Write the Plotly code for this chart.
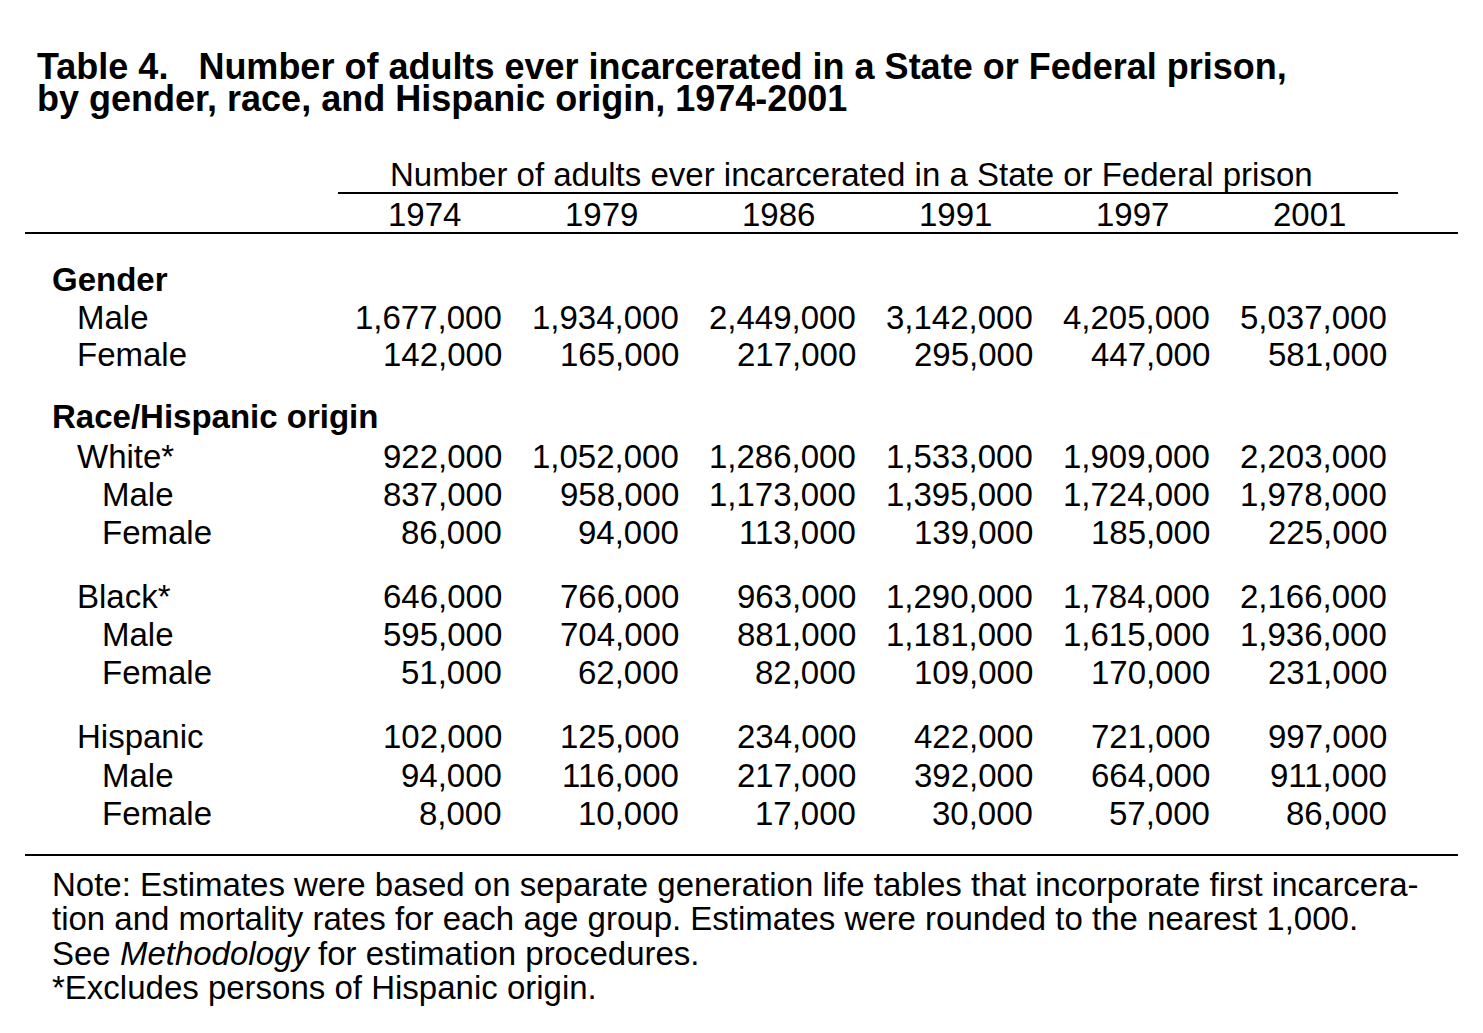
import plotly.graph_objects as go

W, H = 1483, 1033
FONT = "Liberation Sans, Arial, Helvetica, sans-serif"

years = ["1974", "1979", "1986", "1991", "1997", "2001"]

# (label, indent level, bold, values)
rows = [
    ("Gender", 0, True, None),
    ("Male", 1, False, [1677000, 1934000, 2449000, 3142000, 4205000, 5037000]),
    ("Female", 1, False, [142000, 165000, 217000, 295000, 447000, 581000]),
    ("Race/Hispanic origin", 0, True, None),
    ("White*", 1, False, [922000, 1052000, 1286000, 1533000, 1909000, 2203000]),
    ("Male", 2, False, [837000, 958000, 1173000, 1395000, 1724000, 1978000]),
    ("Female", 2, False, [86000, 94000, 113000, 139000, 185000, 225000]),
    ("Black*", 1, False, [646000, 766000, 963000, 1290000, 1784000, 2166000]),
    ("Male", 2, False, [595000, 704000, 881000, 1181000, 1615000, 1936000]),
    ("Female", 2, False, [51000, 62000, 82000, 109000, 170000, 231000]),
    ("Hispanic", 1, False, [102000, 125000, 234000, 422000, 721000, 997000]),
    ("Male", 2, False, [94000, 116000, 217000, 392000, 664000, 911000]),
    ("Female", 2, False, [8000, 10000, 17000, 30000, 57000, 86000]),
]
row_y = [279, 317, 354, 416, 456, 494, 532, 596, 634, 672, 736, 775, 813]

title_lines = [
    "Table 4.   Number of adults ever incarcerated in a State or Federal prison,",
    "by gender, race, and Hispanic origin, 1974-2001",
]
header = "Number of adults ever incarcerated in a State or Federal prison"
notes = [
    "Note: Estimates were based on separate generation life tables that incorporate first incarcera-",
    "tion and mortality rates for each age group. Estimates were rounded to the nearest 1,000.",
    "See <i>Methodology</i> for estimation procedures.",
    "*Excludes persons of Hispanic origin.",
]

col_x = [504, 681, 858, 1035, 1212, 1389]
year_x = [463, 640, 817, 994, 1171, 1348]
indent_x = [50, 75, 100]
fs = 33
OFF = 8  # page body margin

fig = go.Figure()
ann = []


def txt(x, y, s, anchor="left", size=fs, bold=False):
    if bold:
        s = "<b>" + s + "</b>"
    ann.append(dict(x=x, y=y, text=s, xref="x", yref="y", showarrow=False,
                    xanchor=anchor, yanchor="middle",
                    font=dict(family=FONT, size=size, color="black")))


for i, line in enumerate(title_lines):
    txt(35, 66 + i * 32, line, size=36, bold=True)

txt(851, 174, header, anchor="center")
for x, yr in zip(year_x, years):
    txt(x, 214, yr, anchor="right")

for (label, lvl, bold, vals), y in zip(rows, row_y):
    txt(indent_x[lvl], y, label, bold=bold)
    if vals:
        for x, v in zip(col_x, vals):
            txt(x, y, f"{v:,}", anchor="right")

for i, line in enumerate(notes):
    txt(50, 884 + i * 34.5, line)

fig.update_layout(
    annotations=ann,
    shapes=[
        dict(type="line", x0=338, x1=1398, y0=193, y1=193, line=dict(color="black", width=2)),
        dict(type="line", x0=25, x1=1458, y0=233, y1=233, line=dict(color="black", width=2)),
        dict(type="line", x0=25, x1=1458, y0=855, y1=855, line=dict(color="black", width=2)),
    ],
    width=W, height=H,
    margin=dict(l=0, r=0, t=0, b=0),
    paper_bgcolor="white", plot_bgcolor="white",
    xaxis=dict(range=[OFF, W + OFF], visible=False, fixedrange=True),
    yaxis=dict(range=[H + OFF, OFF], visible=False, fixedrange=True),
    showlegend=False,
)

fig.write_html("out.html")
